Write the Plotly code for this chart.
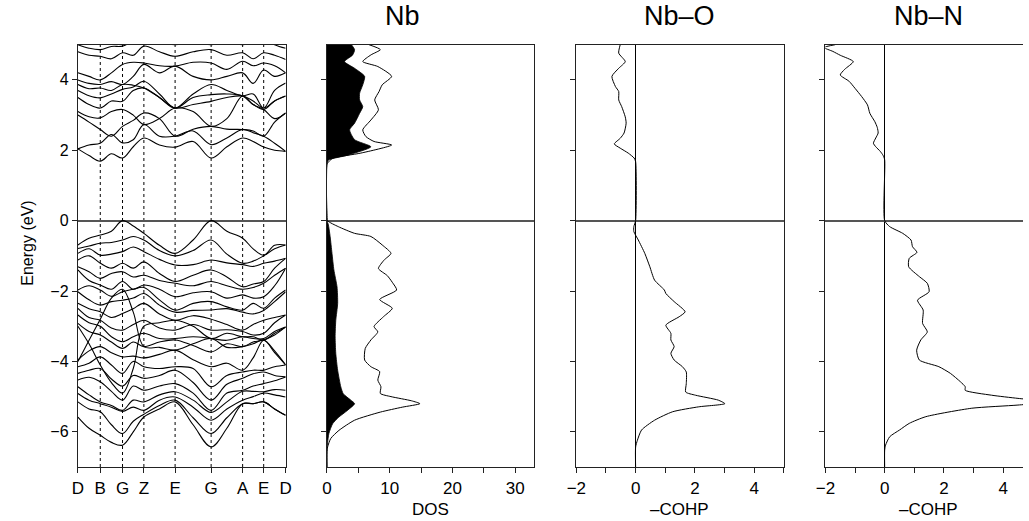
import plotly.graph_objects as go

# ---------------- data ----------------
KPATH_LABELS = ["D", "B", "G", "Z", "E", "G", "A", "E", "D"]
KPATH_POS = [0, 22.7, 45.3, 67.0, 98.7, 135.3, 167.3, 188.7, 211.0]
# sampling points along the k-path (high-symmetry points + midpoints)
K_GRID = [0, 11.3, 22.7, 34.0, 45.3, 56.2, 67.0, 82.8, 98.7, 117.0,
          135.3, 151.3, 167.3, 178.0, 188.7, 199.8, 211.0]

# conduction bands (eV) at K_GRID
COND_BANDS = [
    [2.04, 1.85, 1.69, 1.90, 1.78, 2.10, 2.35, 2.15, 2.09, 2.25, 1.78, 2.10, 2.35, 2.25, 2.09, 2.00, 1.97],
    [2.04, 2.15, 2.20, 2.45, 2.21, 2.30, 2.73, 2.40, 2.40, 2.55, 2.16, 2.35, 2.59, 2.50, 2.40, 2.20, 1.97],
    [3.00, 2.80, 2.59, 2.40, 2.68, 2.85, 3.06, 2.90, 2.40, 2.60, 2.68, 2.60, 2.59, 2.55, 2.40, 2.80, 3.06],
    [3.10, 2.95, 2.92, 3.10, 3.16, 3.00, 2.73, 2.90, 3.20, 3.10, 2.68, 2.90, 3.54, 3.30, 3.16, 2.90, 3.06],
    [3.50, 3.30, 3.20, 3.40, 3.39, 3.70, 3.77, 3.50, 3.20, 3.30, 3.39, 3.50, 3.54, 3.40, 3.20, 3.40, 3.54],
    [3.70, 3.55, 3.49, 3.60, 3.73, 3.80, 3.96, 3.60, 3.20, 3.50, 3.58, 3.60, 3.54, 3.30, 3.16, 3.40, 3.54],
    [3.87, 3.75, 3.77, 3.70, 3.87, 3.85, 3.77, 3.50, 3.20, 3.60, 3.87, 3.70, 3.55, 3.60, 3.20, 3.70, 3.91],
    [4.00, 3.90, 3.87, 3.95, 3.87, 4.10, 4.44, 4.20, 4.39, 4.10, 4.00, 4.10, 4.20, 3.90, 4.28, 4.10, 4.20],
    [4.20, 4.10, 4.00, 4.20, 4.44, 4.50, 4.48, 4.40, 4.39, 4.50, 4.48, 4.30, 4.53, 4.40, 4.48, 4.40, 4.20],
    [4.80, 4.70, 4.67, 4.60, 4.77, 4.70, 4.96, 4.80, 4.67, 4.80, 4.86, 4.70, 4.77, 4.60, 4.77, 4.70, 4.58],
    [5.00, 4.90, 4.86, 4.95, 4.96, 5.10, 5.20, 5.10, 5.00, 5.10, 5.00, 5.10, 5.00, 5.10, 5.20, 5.00, 4.90],
]

# valence bands (eV) at K_GRID
VAL_BANDS = [
    [-0.69, -0.50, -0.41, -0.30, 0.00, -0.15, -0.36, -0.70, -0.93, -0.55, 0.00, -0.30, -0.50, -0.80, -0.98, -0.70, -0.69],
    [-0.79, -0.72, -0.64, -0.62, -0.55, -0.45, -0.55, -0.85, -1.00, -0.85, -0.55, -0.95, -1.21, -1.15, -1.00, -0.80, -0.69],
    [-0.93, -0.80, -0.98, -0.95, -0.88, -0.75, -0.88, -1.10, -1.26, -1.25, -1.12, -1.20, -1.25, -1.30, -1.21, -1.15, -1.07],
    [-1.12, -1.00, -1.21, -1.35, -1.21, -1.35, -1.17, -1.50, -1.73, -1.55, -1.40, -1.60, -1.88, -1.80, -1.73, -1.35, -1.07],
    [-1.31, -1.45, -1.64, -1.50, -1.45, -1.60, -1.55, -1.70, -1.78, -1.85, -1.73, -1.85, -1.95, -1.90, -1.78, -1.55, -1.35],
    [-1.40, -1.70, -1.83, -1.95, -1.73, -1.95, -1.83, -1.95, -2.16, -2.05, -2.02, -2.20, -2.11, -2.20, -2.16, -1.85, -1.35],
    [-1.97, -1.85, -1.97, -2.15, -2.02, -1.95, -1.90, -2.25, -2.54, -2.35, -2.30, -2.45, -2.54, -2.35, -2.49, -2.20, -1.97],
    [-2.02, -2.25, -2.40, -2.30, -2.26, -2.20, -2.07, -2.40, -2.60, -2.55, -2.54, -2.50, -2.60, -2.65, -2.55, -2.30, -2.02],
    [-2.35, -2.50, -2.59, -2.75, -2.64, -2.50, -2.35, -2.65, -2.83, -2.70, -2.80, -2.95, -3.11, -2.95, -2.83, -2.75, -2.68],
    [-2.49, -2.75, -2.83, -3.05, -3.11, -2.95, -2.83, -3.05, -3.11, -2.95, -3.11, -3.10, -3.15, -3.25, -3.20, -2.90, -2.68],
    [-2.68, -2.90, -3.00, -3.30, -3.44, -3.30, -3.20, -3.35, -3.35, -3.30, -3.35, -3.40, -3.30, -3.35, -3.35, -3.15, -3.02],
    [-2.92, -3.15, -3.25, -3.45, -3.63, -3.45, -3.58, -3.45, -3.39, -3.55, -3.73, -3.50, -3.58, -3.45, -3.39, -3.25, -3.02],
    [-3.96, -3.70, -3.58, -3.75, -3.87, -3.85, -3.90, -3.80, -3.68, -3.95, -4.15, -4.05, -4.25, -3.90, -3.40, -3.75, -4.10],
    [-4.15, -4.05, -3.87, -4.10, -4.34, -4.00, -4.15, -4.20, -4.15, -4.20, -4.72, -4.40, -4.30, -4.25, -4.25, -4.15, -4.10],
    [-4.34, -4.25, -4.20, -4.50, -4.70, -4.40, -4.48, -4.40, -4.25, -4.60, -5.10, -4.65, -4.48, -4.35, -4.30, -4.40, -4.44],
    [-4.53, -4.45, -4.58, -4.85, -5.10, -4.70, -4.82, -4.70, -4.63, -4.90, -5.39, -4.90, -4.82, -4.70, -4.63, -4.55, -4.44],
    [-4.72, -4.95, -5.15, -5.25, -5.39, -5.10, -5.15, -4.95, -4.86, -5.10, -5.45, -5.15, -4.85, -4.85, -4.86, -4.80, -4.82],
    [-4.91, -5.10, -5.20, -5.30, -5.42, -5.30, -5.39, -5.10, -5.01, -5.30, -5.67, -5.35, -5.10, -5.00, -4.90, -4.95, -5.01],
    [-5.15, -5.35, -5.43, -5.80, -6.05, -5.70, -5.50, -5.25, -5.10, -5.60, -6.05, -5.60, -5.20, -5.20, -5.15, -5.35, -5.53],
    [-5.58, -5.90, -6.10, -6.30, -6.38, -6.00, -5.58, -5.35, -5.15, -5.80, -6.43, -5.90, -5.20, -5.20, -5.15, -5.35, -5.53],
    [-3.00, -3.50, -4.10, -4.60, -4.90, -4.20, -3.00, -2.90, -2.83, -3.00, -3.35, -3.20, -3.30, -3.30, -3.39, -3.20, -3.02],
    [-4.00, -3.40, -2.80, -2.20, -1.95, -2.60, -3.58, -3.60, -3.68, -3.50, -3.35, -3.60, -3.58, -3.50, -3.39, -3.70, -4.10],
]

# total DOS
TOT_DOS_E = [-7.0, -6.6, -6.43, -6.19, -5.96, -5.67, -5.44, -5.3, -5.2, -5.12, -5.0, -4.91, -4.72, -4.53,
             -4.29, -4.15, -3.96, -3.63, -3.39, -3.16, -3.01, -2.73, -2.49, -2.24, -1.97, -1.75, -1.56,
             -1.36, -1.12, -0.93, -0.69, -0.45, -0.36, -0.17, 0.0, 0.2, 1.6, 1.7, 1.78, 1.92, 2.15,
             2.25, 2.39, 2.58, 2.86, 3.15, 3.43, 3.67, 3.86, 4.1, 4.38, 4.52, 4.71, 4.86, 5.0]
TOT_DOS = [0.0, 0.0, 0.1, 0.6, 1.9, 4.4, 8.5, 12.0, 14.8, 13.5, 10.2, 8.5, 8.6, 8.1,
           8.4, 7.0, 6.0, 6.1, 7.0, 8.1, 7.5, 9.0, 10.4, 8.4, 11.1, 10.4, 9.6,
           8.2, 9.1, 10.2, 8.8, 7.0, 4.4, 1.8, 0.1, 0.0, 0.0, 0.4, 1.0, 5.4, 10.3,
           7.5, 6.2, 5.7, 7.0, 8.2, 7.6, 8.3, 8.8, 10.3, 8.1, 5.7, 7.0, 8.5, 6.7]

# Nb partial DOS
NB_DOS_E = [-7.0, -6.5, -6.3, -6.05, -5.77, -5.58, -5.4, -5.2, -5.1, -4.92, -4.72, -4.25, -3.77,
            -3.3, -2.84, -2.35, -1.88, -1.4, -0.93, -0.45, -0.1, 0.0, 1.6, 1.72, 1.86, 2.1, 2.3,
            2.58, 2.77, 3.05, 3.24, 3.43, 3.62, 3.86, 4.1, 4.33, 4.52, 4.71, 4.86, 5.0]
NB_DOS = [0.0, 0.0, 0.1, 0.3, 0.9, 1.9, 3.2, 4.4, 3.8, 2.6, 2.2, 1.7, 1.4,
          1.3, 1.4, 1.7, 1.6, 1.1, 0.8, 0.5, 0.2, 0.0, 0.0, 0.2, 3.3, 7.0, 4.4,
          3.6, 4.4, 5.2, 5.7, 5.2, 5.2, 5.7, 6.0, 4.4, 2.8, 4.1, 4.4, 3.9]

# -COHP Nb-O
NBO_E = [-7.0, -6.43, -6.24, -5.95, -5.67, -5.43, -5.29, -5.2, -5.1, -4.96, -4.87, -4.63, -4.3,
         -4.15, -3.96, -3.77, -3.58, -3.39, -3.2, -2.97, -2.73, -2.59, -2.3, -2.07, -1.97, -1.69,
         -1.31, -0.93, -0.55, -0.31, -0.17, 0.0, 1.68, 1.78, 1.92, 2.06, 2.18, 2.34, 2.49, 2.77,
         2.95, 3.24, 3.43, 3.67, 3.81, 4.1, 4.33, 4.52, 4.76, 5.0]
NBO_COHP = [0.0, 0.0, 0.06, 0.2, 0.64, 1.25, 2.13, 3.01, 2.79, 2.02, 1.69, 1.71, 1.71,
            1.58, 1.3, 1.19, 1.3, 1.19, 1.19, 1.02, 1.47, 1.67, 1.3, 1.02, 0.97, 0.64,
            0.48, 0.31, 0.09, -0.06, -0.06, 0.0, 0.0, -0.05, -0.25, -0.52, -0.72, -0.52, -0.39, -0.32,
            -0.35, -0.47, -0.57, -0.57, -0.68, -0.8, -0.57, -0.35, -0.57, -0.52]

# -COHP Nb-N
NBN_E = [-7.0, -6.52, -6.38, -6.14, -5.95, -5.76, -5.57, -5.33, -5.24, -5.15, -5.05, -4.96, -4.82,
         -4.72, -4.58, -4.34, -4.15, -3.96, -3.68, -3.39, -3.16, -2.92, -2.54, -2.26, -2.02, -1.78,
         -1.59, -1.31, -1.07, -0.9, -0.74, -0.55, -0.36, -0.17, 0.0, 1.73, 1.85, 1.97, 2.1, 2.2,
         2.35, 2.49, 2.65, 2.81, 3.05, 3.29, 3.53, 3.76, 3.96, 4.14, 4.3, 4.52, 4.7, 4.81, 4.92, 5.0]
NBN_COHP = [0.0, 0.0, 0.03, 0.17, 0.5, 0.83, 1.39, 2.94, 4.5, 5.6, 4.5, 3.61, 2.72,
            2.72, 2.56, 2.22, 1.83, 1.17, 1.08, 1.22, 1.44, 1.28, 1.3, 1.11, 1.5, 1.44,
            1.17, 0.81, 0.83, 1.09, 0.94, 0.89, 0.61, 0.17, 0.0, 0.0, -0.05, -0.15, -0.3, -0.38,
            -0.3, -0.22, -0.25, -0.33, -0.5, -0.58, -0.78, -1.0, -1.2, -1.5, -1.35, -1.06, -1.5, -1.75, -2.05, -1.67]

Y_TICKS = [-6, -4, -2, 0, 2, 4]
Y_TICK_TEXT = ["\u22126", "\u22124", "\u22122", "0", "2", "4"]
DOS_TICKS = [0, 5, 10, 15, 20, 25, 30]
DOS_TICK_TEXT = ["0", "", "10", "", "20", "", "30"]
COHP_TICKS = [-2, -1, 0, 1, 2, 3, 4, 5]
COHP_TICK_TEXT = ["\u22122", "", "0", "", "2", "", "4", ""]

# ---------------- figure ----------------
W, H = 1029, 521
FONT = "Liberation Sans, Arial, Helvetica, sans-serif"


def px_x(p):
    return p / W


def px_y(p):
    return 1 - p / H


YDOM = [px_y(467), px_y(44.7)]
XDOM1 = [px_x(69), px_x(280)]
XDOM2 = [px_x(322), px_x(532.3)]
XDOM3 = [px_x(575.3), px_x(786)]
XDOM4 = [px_x(828.3), 1.0]

fig = go.Figure()

band_line = dict(color="black", width=1.1, shape="spline", smoothing=1.0)
for band in COND_BANDS + VAL_BANDS:
    fig.add_trace(go.Scatter(x=K_GRID, y=band, mode="lines", line=band_line,
                             xaxis="x", yaxis="y", hoverinfo="skip", showlegend=False))

fig.add_trace(go.Scatter(x=NB_DOS, y=NB_DOS_E, mode="lines", fill="tozerox", fillcolor="black",
                         line=dict(color="black", width=0.8, shape="spline", smoothing=0.6),
                         xaxis="x2", yaxis="y2", hoverinfo="skip", showlegend=False))
fig.add_trace(go.Scatter(x=TOT_DOS, y=TOT_DOS_E, mode="lines",
                         line=dict(color="black", width=1.0, shape="spline", smoothing=0.6),
                         xaxis="x2", yaxis="y2", hoverinfo="skip", showlegend=False))
fig.add_trace(go.Scatter(x=NBO_COHP, y=NBO_E, mode="lines",
                         line=dict(color="black", width=1.0, shape="spline", smoothing=0.6),
                         xaxis="x3", yaxis="y3", hoverinfo="skip", showlegend=False))
fig.add_trace(go.Scatter(x=NBN_COHP, y=NBN_E, mode="lines",
                         line=dict(color="black", width=1.0, shape="spline", smoothing=0.6),
                         xaxis="x4", yaxis="y4", hoverinfo="skip", showlegend=False))

tickfont = dict(family=FONT, size=17, color="black")
axis_common = dict(showline=True, linecolor="#222", linewidth=1.3, ticks="outside",
                   ticklen=5, tickwidth=1, tickcolor="#222", showgrid=False, tickfont=tickfont)

yaxis_common = dict(axis_common, range=[-7, 5], domain=YDOM, tickvals=Y_TICKS,
                    zeroline=True, zerolinecolor="#555", zerolinewidth=1.5, mirror=True)

fig.update_layout(
    width=W, height=H,
    margin=dict(l=0, r=0, t=0, b=0),
    paper_bgcolor="white", plot_bgcolor="white",
    showlegend=False,
    font=dict(family=FONT, color="black"),
    xaxis=dict(axis_common, domain=XDOM1, range=[0, 211], tickvals=KPATH_POS,
               ticktext=KPATH_LABELS, zeroline=False, mirror=True, anchor="y"),
    yaxis=dict(yaxis_common, ticktext=Y_TICK_TEXT, anchor="x",
               tickfont=dict(family=FONT, size=16, color="black")),
    xaxis2=dict(axis_common, domain=XDOM2, range=[0, 33], tickvals=DOS_TICKS,
                ticktext=DOS_TICK_TEXT, zeroline=False, mirror=True, anchor="y2"),
    yaxis2=dict(yaxis_common, showticklabels=False, anchor="x2"),
    xaxis3=dict(axis_common, domain=XDOM3, range=[-2, 5], tickvals=COHP_TICKS,
                ticktext=COHP_TICK_TEXT, zeroline=True, zerolinecolor="black",
                zerolinewidth=1.2, mirror=True, anchor="y3"),
    yaxis3=dict(yaxis_common, showticklabels=False, anchor="x3"),
    xaxis4=dict(axis_common, domain=XDOM4, range=[-2, 4.67], tickvals=COHP_TICKS[:-1],
                ticktext=COHP_TICK_TEXT[:-1], zeroline=True, zerolinecolor="black",
                zerolinewidth=1.2, mirror=True, anchor="y4"),
    yaxis4=dict(yaxis_common, showticklabels=False, anchor="x4", mirror=False),
)

# dashed lines at interior high-symmetry points
for kp in KPATH_POS[1:-1]:
    fig.add_shape(type="line", xref="x", yref="y", x0=kp, x1=kp, y0=-7, y1=5,
                  line=dict(color="black", width=1, dash="3px,3px"), layer="below")

ann = []
title_font = dict(family=FONT, size=27, color="black")
label_font = dict(family=FONT, size=17, color="black")
ann.append(dict(text="Nb", x=px_x(399), y=px_y(16.5), xref="paper", yref="paper",
                showarrow=False, font=title_font, xanchor="center", yanchor="middle"))
ann.append(dict(text="Nb\u2013O", x=px_x(680.5), y=px_y(16.5), xref="paper", yref="paper",
                showarrow=False, font=title_font, xanchor="center", yanchor="middle"))
ann.append(dict(text="Nb\u2013N", x=px_x(932.5), y=px_y(16.5), xref="paper", yref="paper",
                showarrow=False, font=title_font, xanchor="center", yanchor="middle"))
ann.append(dict(text="DOS", x=px_x(427), y=px_y(509), xref="paper", yref="paper",
                showarrow=False, font=label_font, xanchor="center", yanchor="middle"))
ann.append(dict(text="\u2013COHP", x=px_x(680.5), y=px_y(509), xref="paper", yref="paper",
                showarrow=False, font=label_font, xanchor="center", yanchor="middle"))
ann.append(dict(text="\u2013COHP", x=px_x(932.5), y=px_y(509), xref="paper", yref="paper",
                showarrow=False, font=label_font, xanchor="center", yanchor="middle"))
ann.append(dict(text="Energy (eV)", x=px_x(17), y=px_y(243), xref="paper", yref="paper",
                showarrow=False, font=dict(family=FONT, size=16, color="black"),
                textangle=-90, xanchor="center", yanchor="middle"))
fig.update_layout(annotations=ann)

fig.write_html("out.html")
